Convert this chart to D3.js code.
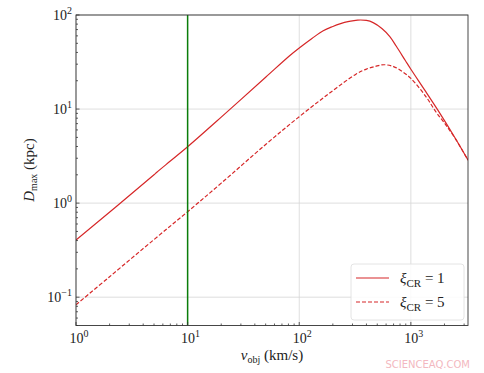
<!DOCTYPE html>
<html>
<head>
<meta charset="utf-8">
<script src="https://cdn.jsdelivr.net/npm/d3@7"></script>
<style>
  body { margin: 0; background: #fff; }
  svg text { font-family: "Liberation Serif", "DejaVu Serif", serif; fill: #222; }
</style>
</head>
<body>
<svg id="chart" width="484" height="373"></svg>
<script>
// values (v in km/s, D in kpc)
const vSolid = [1, 5, 5.3, 7, 10, 20, 50, 82, 100, 130, 164, 200, 231, 280, 333, 400, 459, 550, 648, 741, 895, 1000, 1318, 1740, 2500, 3250];
const dSolid = [0.404, 2.0, 2.13, 2.8, 3.97, 8.2, 21.8, 36.9, 44.6, 56.3, 68, 75.5, 80.5, 85.5, 88.3, 87.5, 83, 72, 59, 46.5, 32.6, 26.5, 16.2, 9.8, 4.9, 2.87];
const vDashed = [1, 2, 5, 10, 20, 50, 100, 186, 322, 400, 480, 575, 700, 840, 1000, 1368, 1680, 2000, 2500, 3250];
const dDashed = [0.083, 0.165, 0.41, 0.81, 1.63, 4.2, 8.3, 14.7, 23.5, 26.6, 28.4, 29.6, 28.3, 25, 21.2, 13.5, 9.3, 7.1, 4.85, 2.86];
const vMarker = 10;
const xTicks = [1, 10, 100, 1000];
const yTicks = [0.1, 1, 10, 100];
const legendLabels = ["1", "5"];

const svg = d3.select("#chart");
const L = 76, R = 468, T = 15, B = 325.5;
const red = "#d62728";

const x = d3.scaleLog().domain([1, 3250]).range([L, R]);
const y = d3.scaleLog().domain([0.05, 100]).range([B, T]);

// grid
svg.append("g").selectAll("line").data(xTicks).join("line")
  .attr("x1", d => x(d)).attr("x2", d => x(d)).attr("y1", T).attr("y2", B)
  .attr("stroke", "#d6d6d6").attr("stroke-width", 0.8);
svg.append("g").selectAll("line").data(yTicks).join("line")
  .attr("y1", d => y(d)).attr("y2", d => y(d)).attr("x1", L).attr("x2", R)
  .attr("stroke", "#d6d6d6").attr("stroke-width", 0.8);

// minor ticks
const xMinor = [];
for (let e = 0; e < 4; e++) for (let k = 2; k <= 9; k++) {
  const v = k * Math.pow(10, e);
  if (v <= 3250) xMinor.push(v);
}
const yMinor = [];
for (let e = -2; e < 2; e++) for (let k = 2; k <= 9; k++) {
  const v = k * Math.pow(10, e);
  if (v >= 0.05 && v <= 100) yMinor.push(v);
}

// the two curves
const line = d3.line().curve(d3.curveCatmullRom.alpha(0.5)).x(d => x(d[0])).y(d => y(d[1]));
svg.append("clipPath").attr("id", "clip").append("rect")
  .attr("x", L).attr("y", T).attr("width", R - L).attr("height", B - T);

const plot = svg.append("g").attr("clip-path", "url(#clip)");
plot.append("path")
  .attr("d", line(vDashed.map((v, i) => [v, dDashed[i]])))
  .attr("fill", "none").attr("stroke", red).attr("stroke-width", 1.2)
  .attr("stroke-dasharray", "4,2");
plot.append("path")
  .attr("d", line(vSolid.map((v, i) => [v, dSolid[i]])))
  .attr("fill", "none").attr("stroke", red).attr("stroke-width", 1.2);

// green vertical marker
plot.append("line")
  .attr("x1", x(vMarker)).attr("x2", x(vMarker)).attr("y1", T).attr("y2", B)
  .attr("stroke", "#0a7d0a").attr("stroke-width", 1.5);

// ticks (inward)
const tk = svg.append("g").attr("stroke", "#333").attr("stroke-width", 0.8);
xTicks.forEach(d => tk.append("line").attr("x1", x(d)).attr("x2", x(d)).attr("y1", B).attr("y2", B - 3.5));
xMinor.forEach(d => tk.append("line").attr("x1", x(d)).attr("x2", x(d)).attr("y1", B).attr("y2", B - 2));
yTicks.forEach(d => tk.append("line").attr("y1", y(d)).attr("y2", y(d)).attr("x1", L).attr("x2", L + 3.5));
yMinor.forEach(d => tk.append("line").attr("y1", y(d)).attr("y2", y(d)).attr("x1", L).attr("x2", L + 2));

// frame
svg.append("rect").attr("x", L).attr("y", T).attr("width", R - L).attr("height", B - T)
  .attr("fill", "none").attr("stroke", "#333").attr("stroke-width", 0.9);

// tick labels 10^n
function powLabel(g, px, py, exp, anchor) {
  const t = g.append("text").attr("x", px).attr("y", py).attr("text-anchor", anchor)
    .style("font-size", "14px");
  t.append("tspan").text("10");
  t.append("tspan").attr("dy", -6).style("font-size", "10px").text(exp);
}
const lab = svg.append("g");
xTicks.forEach(d => powLabel(lab, x(d) + 3, B + 17, String(Math.round(Math.log10(d))), "middle"));
yTicks.forEach(d => {
  const e = Math.round(Math.log10(d));
  powLabel(lab, L - 4, y(d) + 5, e < 0 ? "\u2212" + (-e) : String(e), "end");
});

// axis titles
const xt = svg.append("text").attr("x", 272).attr("y", 360).attr("text-anchor", "middle")
  .style("font-size", "15px");
xt.append("tspan").style("font-style", "italic").text("v");
xt.append("tspan").attr("dy", 3).style("font-size", "10px").text("obj");
xt.append("tspan").attr("dy", -3).text(" (km/s)");

const yt = svg.append("text").attr("transform", `translate(34,170) rotate(-90)`)
  .attr("text-anchor", "middle").style("font-size", "15px");
yt.append("tspan").style("font-style", "italic").text("D");
yt.append("tspan").attr("dy", 3).style("font-size", "10px").text("max");
yt.append("tspan").attr("dy", -3).text(" (kpc)");

// legend
const lg = svg.append("g");
lg.append("rect").attr("x", 351).attr("y", 264).attr("width", 113).attr("height", 56).attr("rx", 3)
  .attr("fill", "#fff").attr("fill-opacity", 0.85).attr("stroke", "#ddd").attr("stroke-width", 0.8);
legendLabels.forEach((lbl, i) => {
  const ly = 278 + i * 24;
  lg.append("line").attr("x1", 356).attr("x2", 389).attr("y1", ly).attr("y2", ly)
    .attr("stroke", red).attr("stroke-width", 1.2)
    .attr("stroke-dasharray", i === 1 ? "4,2" : null);
  const t = lg.append("text").attr("x", 400).attr("y", ly + 5).style("font-size", "15px");
  t.append("tspan").style("font-style", "italic").text("\u03BE");
  t.append("tspan").attr("dy", 4).style("font-size", "11px").text("CR");
  t.append("tspan").attr("dy", -4).text(" = " + lbl);
});

// watermark
svg.append("text").attr("x", 470).attr("y", 368).attr("text-anchor", "end")
  .style("font-family", "'DejaVu Sans', sans-serif").style("font-size", "10px")
  .style("fill", "#f3b8c0").text("SCIENCEAQ.COM");
</script>
</body>
</html>
